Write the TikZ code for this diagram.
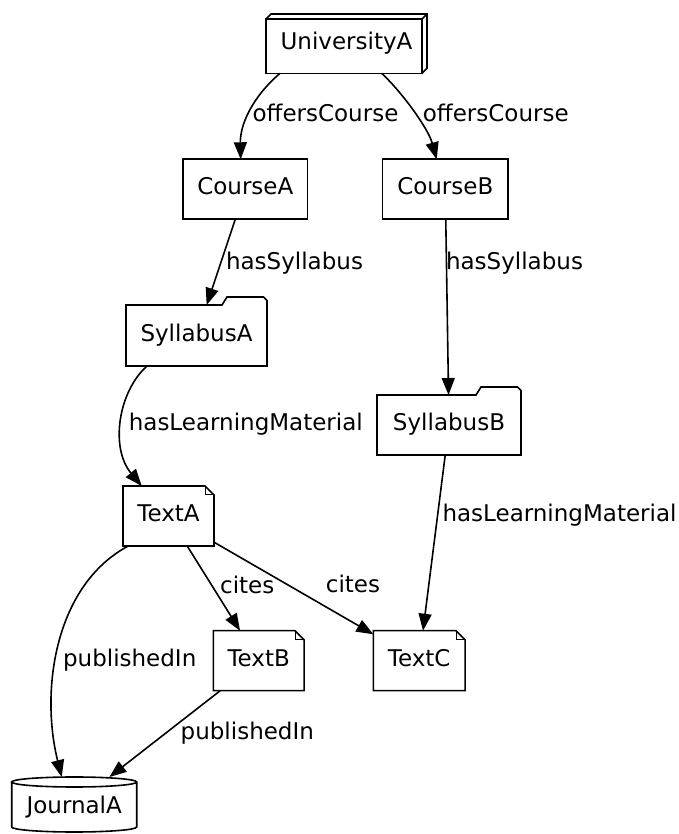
\documentclass[tikz,border=0pt]{standalone}
\usepackage{fontspec}
\setmainfont{DejaVu Sans}
\usepackage{tikz}
\usetikzlibrary{arrows.meta,calc}

\begin{document}
\begin{tikzpicture}[
  x=1pt,y=1pt,
  font=\fontsize{23}{28}\selectfont,
  line width=1.6pt,
  >={Triangle[length=17pt,width=13pt]},
  gvnode/.style={rectangle,outer sep=0pt,inner sep=4pt,minimum height=60pt,text height=17pt,text depth=5.6pt},
  box/.style={gvnode,draw},
  box3d/.style={gvnode,append after command={\pgfextra{
    \draw[line join=miter] (\tikzlastnode.south west) rectangle ([shift={(-5pt,-5pt)}]\tikzlastnode.north east);
    \draw[line join=miter] ([yshift=-5pt]\tikzlastnode.north west) -- ([xshift=5pt]\tikzlastnode.north west)
      -- (\tikzlastnode.north east) -- ([yshift=5pt]\tikzlastnode.south east) -- ([xshift=-5pt]\tikzlastnode.south east);
    \draw ([shift={(-5pt,-5pt)}]\tikzlastnode.north east) -- (\tikzlastnode.north east);}}},
  folder/.style={gvnode,append after command={\pgfextra{
    \draw[line join=miter] (\tikzlastnode.south west) -- (\tikzlastnode.north west)
      -- ([xshift=-45pt]\tikzlastnode.north east) -- ([shift={(-40pt,8pt)}]\tikzlastnode.north east)
      -- ([shift={(-3.5pt,8pt)}]\tikzlastnode.north east) -- ([yshift=4.5pt]\tikzlastnode.north east)
      -- (\tikzlastnode.south east) -- cycle;}}},
  note/.style={gvnode,append after command={\pgfextra{
    \draw[line join=miter] (\tikzlastnode.south west) -- (\tikzlastnode.north west)
      -- ([xshift=-9pt]\tikzlastnode.north east) -- ([yshift=-9pt]\tikzlastnode.north east)
      -- (\tikzlastnode.south east) -- cycle;
    \draw[line width=1pt] ([xshift=-9pt]\tikzlastnode.north east) |- ([yshift=-9pt]\tikzlastnode.north east);}}},
  drum/.style={gvnode,minimum height=55pt,text height=20pt,text depth=2.4pt,append after command={\pgfextra{
    \draw ([yshift=-5pt]\tikzlastnode.north west) -- ([yshift=5pt]\tikzlastnode.south west)
      arc[start angle=180,end angle=360,x radius=62.5pt,y radius=5pt]
      -- ([yshift=-5pt]\tikzlastnode.north east)
      arc[start angle=0,end angle=360,x radius=62.5pt,y radius=5pt];}}},
  lbl/.style={anchor=base,inner sep=0pt}
]
\useasboundingbox (0,0) rectangle (678,834);
% nodes
\node[box3d,minimum width=161pt,minimum height=59.3pt] (ua) at (346.5,790.3) {UniversityA};
\node[box,minimum width=124.7pt] (ca) at (245.3,644.7) {CourseA};
\node[box,minimum width=125.3pt] (cb) at (445.3,644.7) {CourseB};
\node[folder,minimum width=141pt,minimum height=61pt] (sa) at (196.5,498.5) {SyllabusA};
\node[folder,minimum width=144pt] (sb) at (449,409) {SyllabusB};
\node[note,minimum width=91pt] (ta) at (168.5,318) {TextA};
\node[note,minimum width=90.7pt] (tb) at (258.7,173.3) {TextB};
\node[note,minimum width=91.7pt] (tc) at (419.2,173.3) {TextC};
\node[drum,minimum width=125pt] (ja) at (74.2,29.5) {JournalA};
% edges
\draw[->] ([xshift=-66.5pt]ua.south) .. controls +(-28,-24) and +(-0.7,34.3) .. ([xshift=-4.6pt]ca.north);
\draw[->] ([xshift=35.2pt]ua.south) .. controls +(20.3,-19) and +(-8.7,31.3) .. ([xshift=-8.6pt]cb.north);
\draw[->] (ca) -- (sa);
\draw[->] (cb) -- (sb);
\draw[->] ([xshift=-49.5pt]sa.south) .. controls +(-29,-26) and +(-31.7,38) .. ([xshift=-26.8pt]ta.north);
\draw[->] (sb) -- (tc);
\draw[->] ([xshift=-40.2pt]ta.south) .. controls +(-73.3,-39) and +(-21.7,87) .. ([xshift=-12.5pt]ja.north);
\draw[->] (ta) -- (tb);
\draw[->] (ta) -- (tc);
\draw[->] (tb) -- (ja);
% edge labels
\node[lbl] (offa) at (325.5,712) {offersCourse};
\node[lbl] (offb) at (495.8,712) {offersCourse};
\node[lbl] (syla) at (294.5,564) {hasSyllabus};
\node[lbl] (sylb) at (514.5,564) {hasSyllabus};
\node[lbl] (lma) at (245.8,403) {hasLearningMaterial};
\node[lbl] (lmb) at (559.5,312) {hasLearningMaterial};
\node[lbl] (cita) at (247.2,240.7) {cites};
\node[lbl] (citb) at (353,241) {cites};
\node[lbl] (puba) at (129.7,167.3) {publishedIn};
\node[lbl] (pubb) at (247.3,94.7) {publishedIn};
\end{tikzpicture}
\end{document}
